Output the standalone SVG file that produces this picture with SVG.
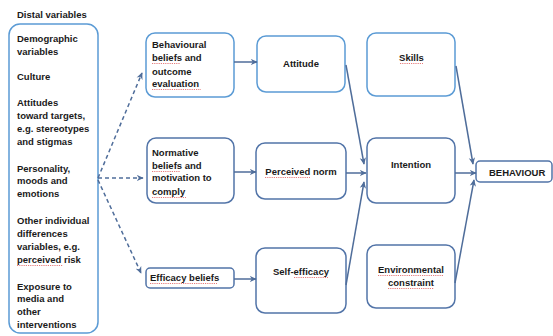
<svg xmlns="http://www.w3.org/2000/svg" width="553" height="336" viewBox="0 0 553 336">
<style>
text{font-family:"Liberation Sans",Arial,sans-serif;font-weight:bold;font-size:9.5px;fill:#1a1a1a}
.c{text-anchor:middle}
.bl{fill:#fff;stroke:#5b9bd5;stroke-width:1.5}
.bd{fill:#fff;stroke:#5274a8;stroke-width:1.5}
.ln{stroke:#4f6d9a;stroke-width:1.5;fill:none}
.dash{stroke:#4f6d9a;stroke-width:1.5;fill:none;stroke-dasharray:4 3}
.sq{stroke:#e05a5a;stroke-width:0.8;fill:none;stroke-dasharray:1.2 1}
</style>
<defs>
<marker id="ah" viewBox="0 0 10 10" refX="9" refY="5" markerWidth="7" markerHeight="7" markerUnits="userSpaceOnUse" orient="auto">
<path d="M0,0.5 L10,5 L0,9.5 L3,5 z" fill="#4f6d9a"/>
</marker>
</defs>
<rect width="553" height="336" fill="#fff"/>
<text x="17" y="18">Distal variables</text>
<g id="distal">
<rect class="bl" x="9" y="24" width="89" height="309" rx="11"/>
<text x="17" y="42">Demographic</text>
<text x="17" y="55">variables</text>
<text x="17" y="80">Culture</text>
<text x="17" y="106">Attitudes</text>
<text x="17" y="119">toward targets,</text>
<text x="17" y="132">e.g. stereotypes</text>
<text x="17" y="145">and stigmas</text>
<text x="17" y="172">Personality,</text>
<text x="17" y="184">moods and</text>
<text x="17" y="197">emotions</text>
<text x="17" y="224">Other individual</text>
<text x="17" y="237">differences</text>
<text x="17" y="250">variables, e.g.</text>
<text x="17" y="263">perceived risk</text>
<text x="17" y="290">Exposure to</text>
<text x="17" y="302">media and</text>
<text x="17" y="315">other</text>
<text x="17" y="328">interventions</text>
<path class="sq" d="M17,265.5 H63"/>
</g>
<g id="behavioural">
<rect class="bl" x="146" y="33" width="88" height="64" rx="9"/>
<text x="152" y="48">Behavioural</text>
<text x="152" y="61">beliefs and</text>
<text x="152" y="75">outcome</text>
<text x="152" y="87">evaluation</text>
<path class="sq" d="M152,63.5 H180 M152,89.5 H201"/>
</g>
<g id="normative">
<rect class="bd" x="147" y="138" width="87" height="65" rx="9"/>
<text x="152" y="156">Normative</text>
<text x="152" y="169">beliefs and</text>
<text x="152" y="181">motivation to</text>
<text x="152" y="195">comply</text>
<path class="sq" d="M152,171.5 H180 M152,197.5 H186"/>
</g>
<g id="efficacy-beliefs">
<rect class="bd" x="146" y="268" width="88" height="20" rx="4"/>
<text x="150" y="281">Efficacy beliefs</text>
<path class="sq" d="M150,283.5 H217"/>
</g>
<g id="attitude">
<rect class="bl" x="257" y="36" width="88" height="56" rx="9"/>
<text class="c" x="301" y="67">Attitude</text>
</g>
<g id="perceived-norm">
<rect class="bd" x="256" y="143" width="90" height="56" rx="9"/>
<text class="c" x="301" y="175">Perceived norm</text>
<path class="sq" d="M265,177.5 H310"/>
</g>
<g id="self-efficacy">
<rect class="bd" x="256" y="248" width="90" height="65" rx="9"/>
<text class="c" x="301" y="275">Self-efficacy</text>
<path class="sq" d="M294,277.5 H328"/>
</g>
<g id="skills">
<rect class="bl" x="367" y="33" width="88" height="63" rx="9"/>
<text class="c" x="411.5" y="61">Skills</text>
<path class="sq" d="M400,63.5 H423"/>
</g>
<g id="intention">
<rect class="bd" x="367" y="138" width="88" height="65" rx="9"/>
<text class="c" x="411" y="168">Intention</text>
</g>
<g id="environmental">
<rect class="bd" x="367" y="245" width="88" height="63" rx="9"/>
<text class="c" x="411" y="273">Environmental</text>
<text class="c" x="411" y="286">constraint</text>
<path class="sq" d="M378,275.5 H444 M388,288.5 H434"/>
</g>
<g id="behaviour">
<rect class="bd" x="476" y="161" width="76" height="21" rx="4"/>
<text x="489" y="175.5">BEHAVIOUR</text>
</g>
<g id="connectors">
<path class="dash" d="M98,178 L142,73" marker-end="url(#ah)"/>
<path class="dash" d="M98,178 L143,178" marker-end="url(#ah)"/>
<path class="dash" d="M98,180 L141,273" marker-end="url(#ah)"/>
<path class="ln" d="M234,62 L257,62" marker-end="url(#ah)"/>
<path class="ln" d="M234,172 L256,172" marker-end="url(#ah)"/>
<path class="ln" d="M234,279 L256,279" marker-end="url(#ah)"/>
<path class="ln" d="M346,65 L364,164" marker-end="url(#ah)"/>
<path class="ln" d="M346,173 L366,173" marker-end="url(#ah)"/>
<path class="ln" d="M346,285 L364,182" marker-end="url(#ah)"/>
<path class="ln" d="M456,66 L473,164" marker-end="url(#ah)"/>
<path class="ln" d="M455,173 L476,173" marker-end="url(#ah)"/>
<path class="ln" d="M455,283 L474,180" marker-end="url(#ah)"/>
</g>
</svg>
